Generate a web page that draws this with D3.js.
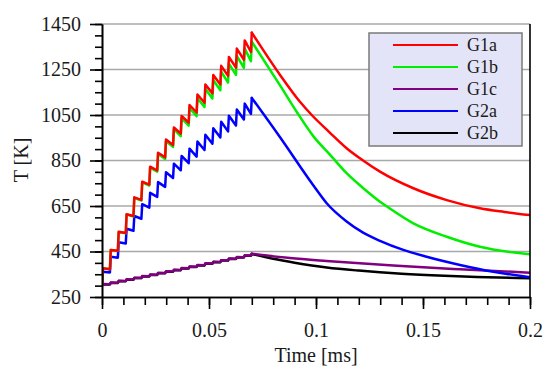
<!DOCTYPE html>
<html>
<head>
<meta charset="utf-8">
<script src="https://cdn.jsdelivr.net/npm/d3@7"></script>
<style>
  body { margin: 0; background: #fff; }
  svg { display: block; }
  text { font-family: "Liberation Serif", "Times New Roman", Times, serif; fill: #1a1a1a; }
</style>
</head>
<body>
<svg id="chart" width="550" height="370"></svg>
<script>
// ---------- data ----------
const seriesNames = ["G1a", "G1b", "G1c", "G2a", "G2b"];
const xTickValues = [0, 0.05, 0.1, 0.15, 0.2];
const xTickLabels = ["0", "0.05", "0.1", "0.15", "0.2"];
const yTickValues = [250, 450, 650, 850, 1050, 1250, 1450];
const yTickLabels = ["250", "450", "650", "850", "1050", "1250", "1450"];

const startTemp = 300;
// times (ms) of the heating pulses (trough just before each rise)
const pulseTimes = [0, 0.0037, 0.0074, 0.0111, 0.0147, 0.0184, 0.0221, 0.0258, 0.0295, 0.0332,
                    0.0368, 0.0405, 0.0442, 0.0479, 0.0516, 0.0553, 0.0589, 0.0626, 0.0663, 0.0696];
const riseTime = 0.0004;

// G1a
const g1aPeaks   = [376, 457, 537, 614, 688, 757, 823, 884, 942, 995, 1046, 1094, 1140, 1184, 1226, 1266, 1305, 1342, 1378, 1412];
const g1aTroughs = [372, 453, 531, 606, 677, 744, 806, 864, 918, 968, 1016, 1061, 1104, 1145, 1184, 1222, 1258, 1293, 1327];
const g1aDecayT  = [0.0832, 0.0925, 0.098, 0.1062, 0.1143, 0.122, 0.1299, 0.1455, 0.1611, 0.1766, 0.188, 0.2];
const g1aDecayV  = [1226, 1108, 1050, 975, 904, 850, 801, 728, 676, 640, 624, 610];

// G1b
const g1bPeaks   = [376, 457, 536, 613, 686, 754, 819, 879, 935, 987, 1035, 1081, 1124, 1165, 1204, 1241, 1276, 1310, 1342, 1372];
const g1bTroughs = [372, 452, 530, 604, 674, 740, 801, 857, 910, 957, 1003, 1045, 1085, 1123, 1159, 1193, 1226, 1257, 1287];
const g1bDecayT  = [0.0832, 0.0911, 0.0989, 0.1067, 0.1143, 0.1221, 0.1299, 0.1328, 0.1455, 0.1611, 0.1766, 0.2];
const g1bDecayV  = [1180, 1062, 955, 874, 794, 728, 669, 650, 574, 515, 471, 438];

// G1c
const g1cPeaks   = [307, 314, 321, 328, 335, 342, 349, 356, 363, 370, 377, 384, 391, 398, 405, 412, 419, 426, 433, 440];
const g1cTroughs = [306, 313, 320, 327, 334, 341, 348, 355, 362, 369, 376, 383, 390, 397, 404, 411, 418, 425, 432];
const g1cDecayT  = [0.0879, 0.1049, 0.1361, 0.1673, 0.2];
const g1cDecayV  = [421, 408, 388, 372, 357];

// G2a
const g2aPeaks   = [361, 427, 491, 550, 606, 658, 708, 755, 798, 836, 870, 902, 933, 963, 992, 1020, 1047, 1074, 1100, 1125];
const g2aTroughs = [358, 423, 485, 541, 594, 643, 690, 734, 773, 807, 838, 867, 896, 924, 951, 978, 1004, 1030, 1055];
const g2aDecayT  = [0.0832, 0.0988, 0.105, 0.1143, 0.122, 0.1299, 0.1408, 0.1517, 0.1673, 0.1829, 0.2];
const g2aDecayV  = [952, 740, 662, 582, 533, 497, 457, 427, 391, 361, 337];

// G2b
const g2bPeaks   = [306, 313, 320, 327, 334, 341, 348, 355, 362, 369, 376, 383, 390, 397, 404, 411, 418, 425, 432, 439];
const g2bTroughs = [305, 312, 319, 326, 333, 340, 347, 354, 361, 368, 375, 382, 389, 396, 403, 410, 417, 424, 431];
const g2bDecayT  = [0.08, 0.09, 0.105, 0.12, 0.14, 0.16, 0.18, 0.2];
const g2bDecayV  = [418, 401, 380, 366, 352, 343, 337, 332];

const seriesColors = { G1a: "#ff0000", G1b: "#00ee00", G1c: "#800080", G2a: "#0000ff", G2b: "#000000" };

// ---------- build ----------
function buildHeating(peaks, troughs) {
  const pts = [[0, startTemp]];
  pulseTimes.forEach((t, k) => {
    if (k > 0) pts.push([t, troughs[k - 1]]);
    pts.push([t + riseTime, peaks[k]]);
  });
  return pts;
}
function buildCooling(peaks, dT, dV) {
  const last = pulseTimes.length - 1;
  const pts = [[pulseTimes[last] + riseTime, peaks[last]]];
  dT.forEach((t, i) => pts.push([t, dV[i]]));
  return pts;
}
const raw = {
  G1a: [g1aPeaks, g1aTroughs, g1aDecayT, g1aDecayV],
  G1b: [g1bPeaks, g1bTroughs, g1bDecayT, g1bDecayV],
  G1c: [g1cPeaks, g1cTroughs, g1cDecayT, g1cDecayV],
  G2a: [g2aPeaks, g2aTroughs, g2aDecayT, g2aDecayV],
  G2b: [g2bPeaks, g2bTroughs, g2bDecayT, g2bDecayV]
};

const svg = d3.select("#chart");
const L = 102, R = 530, T = 24, B = 297;
const x = d3.scaleLinear().domain([0, 0.2]).range([L, R]);
const y = d3.scaleLinear().domain([250, 1450]).range([B, T]);

// gridlines
svg.append("g").selectAll("line").data(yTickValues.filter(v => v > 250)).join("line")
  .attr("x1", L).attr("x2", R).attr("y1", d => y(d)).attr("y2", d => y(d))
  .attr("stroke", "#a8a8a8").attr("stroke-width", 1.6);

// clip
svg.append("clipPath").attr("id", "clip").append("rect")
  .attr("x", L).attr("y", T - 2).attr("width", R - L).attr("height", B - T + 2);

const lineHeat = d3.line().x(d => x(d[0])).y(d => y(d[1]));
const lineCool = d3.line().x(d => x(d[0])).y(d => y(d[1])).curve(d3.curveMonotoneX);
const drawOrder = ["G2b", "G1c", "G2a", "G1b", "G1a"];
const plot = svg.append("g").attr("clip-path", "url(#clip)");
drawOrder.forEach(n => {
  const [p, tr, dT, dV] = raw[n];
  const g = plot.append("g").attr("fill", "none").attr("stroke", seriesColors[n])
    .attr("stroke-width", 2.5).attr("stroke-linejoin", "round").attr("stroke-linecap", "round");
  g.append("path").attr("d", lineHeat(buildHeating(p, tr)));
  g.append("path").attr("d", lineCool(buildCooling(p, dT, dV)));
});

// axes
const xMinor = d3.range(0, 21).map(i => i / 100);
const yMinor = d3.range(0, 25).map(i => 250 + i * 50);

const xMinorAxis = d3.axisBottom(x).tickValues(xMinor).tickSize(8).tickSizeOuter(0).tickFormat("");
const xMajorAxis = d3.axisBottom(x).tickValues(xTickValues).tickSize(12).tickSizeOuter(0).tickPadding(14)
  .tickFormat((d, i) => xTickLabels[i]);
const yMinorAxis = d3.axisLeft(y).tickValues(yMinor).tickSize(7).tickSizeOuter(0).tickFormat("");
const yMajorAxis = d3.axisLeft(y).tickValues(yTickValues).tickSize(12).tickSizeOuter(0).tickPadding(9)
  .tickFormat((d, i) => yTickLabels[i]);

function styleAxis(g) {
  g.attr("font-family", null);
  g.selectAll("path.domain").attr("stroke", "#000").attr("stroke-width", 1.6);
  g.selectAll(".tick line").attr("stroke", "#000").attr("stroke-width", 1.6);
  g.selectAll(".tick text").style("font-family", "'Liberation Serif', 'Times New Roman', serif").style("font-size", "20px").attr("fill", "#1a1a1a");
}
svg.append("g").attr("transform", `translate(0,${B})`).call(xMinorAxis).call(styleAxis);
svg.append("g").attr("transform", `translate(0,${B})`).call(xMajorAxis).call(styleAxis);
svg.append("g").attr("transform", `translate(${L},0)`).call(yMinorAxis).call(styleAxis);
svg.append("g").attr("transform", `translate(${L},0)`).call(yMajorAxis).call(styleAxis);

// right border
svg.append("line").attr("x1", R).attr("x2", R).attr("y1", T).attr("y2", B)
  .attr("stroke", "#000").attr("stroke-width", 1.6);

// axis titles
svg.append("text").attr("x", (L + R) / 2).attr("y", 362).attr("text-anchor", "middle")
  .style("font-size", "20px").text("Time [ms]");
svg.append("text").attr("transform", "translate(28,160) rotate(-90)").attr("text-anchor", "middle")
  .style("font-size", "20px").text("T [K]");

// legend
const lg = svg.append("g");
lg.append("rect").attr("x", 369).attr("y", 33).attr("width", 153).attr("height", 113)
  .attr("fill", "#e4e4f8").attr("stroke", "#7a7a7a").attr("stroke-width", 1.5);
seriesNames.forEach((n, i) => {
  const yy = 45 + i * 22;
  lg.append("line").attr("x1", 393).attr("x2", 458).attr("y1", yy).attr("y2", yy)
    .attr("stroke", seriesColors[n]).attr("stroke-width", 2.2);
  lg.append("text").attr("x", 467).attr("y", yy + 6).style("font-size", "18px").text(n);
});
</script>
</body>
</html>
